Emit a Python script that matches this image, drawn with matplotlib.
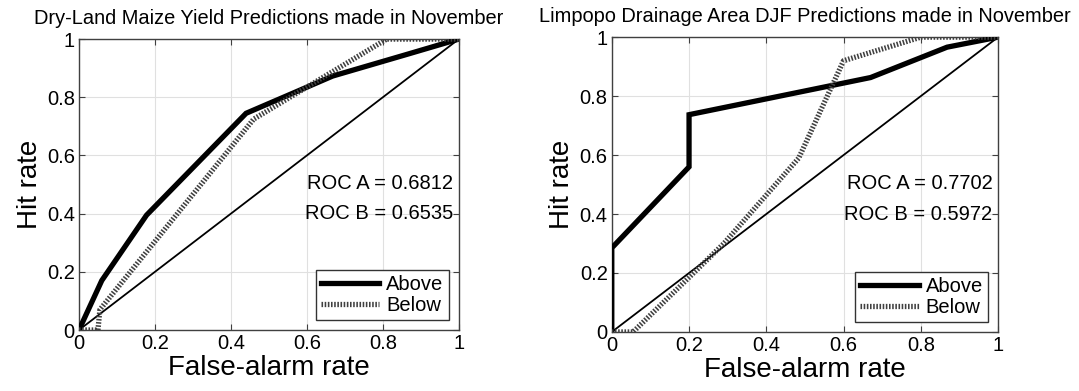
import matplotlib
matplotlib.use("Agg")
import matplotlib.pyplot as plt

plt.rcParams["font.family"] = ["Liberation Sans", "DejaVu Sans"]

# ---- left panel: Dry-Land Maize Yield ----
maize_above_far = [0, 0.06, 0.178, 0.44, 0.668, 0.87, 1]
maize_above_hr = [0, 0.17, 0.395, 0.745, 0.873, 0.95, 1]
maize_below_far = [0, 0.05, 0.055, 0.46, 0.81, 1]
maize_below_hr = [0, 0, 0.07, 0.725, 1, 1]

# ---- right panel: Limpopo Drainage Area DJF ----
limpopo_above_far = [0, 0, 0.2, 0.2, 0.67, 0.868, 1]
limpopo_above_hr = [0, 0.285, 0.56, 0.737, 0.863, 0.966, 1]
limpopo_below_far = [0, 0.055, 0.29, 0.484, 0.6, 0.8, 1]
limpopo_below_hr = [0, 0, 0.30, 0.59, 0.92, 1, 1]

titles = ["Dry-Land Maize Yield Predictions made in November",
          "Limpopo Drainage Area DJF Predictions made in November"]
roc_a = ["0.6812", "0.7702"]
roc_b = ["0.6535", "0.5972"]
ticks = [0, 0.2, 0.4, 0.6, 0.8, 1]
tick_labels = ["0", "0.2", "0.4", "0.6", "0.8", "1"]

panels = [
    (maize_above_far, maize_above_hr, maize_below_far, maize_below_hr),
    (limpopo_above_far, limpopo_above_hr, limpopo_below_far, limpopo_below_hr),
]

fig = plt.figure(figsize=(10.79, 3.91), dpi=100)
axes = [fig.add_axes([0.0732, 0.156, 0.352, 0.744]),
        fig.add_axes([0.567, 0.151, 0.358, 0.754])]

for i, ax in enumerate(axes):
    a_x, a_y, b_x, b_y = panels[i]
    ax.plot([0, 1], [0, 1], color="black", linewidth=1.3, zorder=2)
    ax.plot(a_x, a_y, color="black", linewidth=3.8, label="Above",
            solid_joinstyle="miter", zorder=3)
    ax.plot(b_x, b_y, color="0.25", linewidth=3.8, linestyle=(0, (0.3, 0.3)),
            label="Below", zorder=3)

    ax.set_xlim(0, 1)
    ax.set_ylim(0, 1)
    ax.set_xticks(ticks)
    ax.set_xticklabels(tick_labels)
    ax.set_yticks(ticks)
    ax.set_yticklabels(tick_labels)
    ax.tick_params(direction="in", top=True, right=True, labelsize=14.5,
                   length=4, color="0.25", pad=3)
    ax.grid(True, color="0.88", linewidth=0.8)
    for s in ax.spines.values():
        s.set_color("0.25")
        s.set_linewidth(1.0)

    ax.set_xlabel("False-alarm rate", fontsize=20, labelpad=1)
    ax.set_ylabel("Hit rate", fontsize=20, labelpad=3)
    ax.set_title(titles[i], fontsize=14.4, pad=11)

    ax.text(0.985, 0.505, f"ROC A = {roc_a[i]}", transform=ax.transAxes,
            ha="right", va="center", fontsize=14.5)
    ax.text(0.985, 0.40, f"ROC B = {roc_b[i]}", transform=ax.transAxes,
            ha="right", va="center", fontsize=14.5)

    leg = ax.legend(loc="lower right", fontsize=14.5, handlelength=2.9,
                    fancybox=False, framealpha=1, edgecolor="0.2",
                    borderpad=0.25, labelspacing=0.1, handletextpad=0.35,
                    borderaxespad=0.5)
    leg.get_frame().set_linewidth(1.0)

fig.savefig("out.png", dpi=100)
